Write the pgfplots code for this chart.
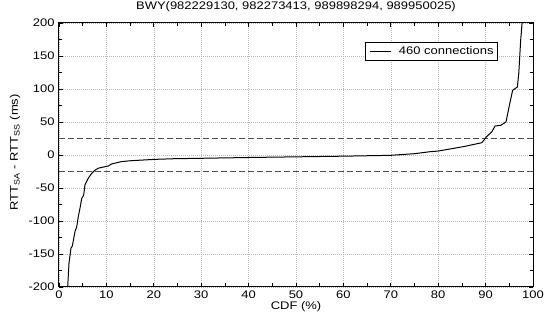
\documentclass[border=0pt]{standalone}
\usepackage{fontspec}
\setmainfont{Liberation Sans}[FakeStretch=1.18]
\usepackage{pgfplots}
\pgfplotsset{compat=1.18}
\begin{document}
\begin{tikzpicture}[font=\fontsize{11bp}{13bp}\selectfont]
\begin{axis}[
  scale only axis,
  width=474bp, height=264bp,
  xmin=0, xmax=100, ymin=-200, ymax=200,
  xtick={0,10,...,100},
  minor xtick={5,15,...,95},
  ytick={-200,-150,...,200},
  yticklabels={-200,-150,-100,-50,0,50,100,150,200},
  minor ytick={-175,-125,...,175},
  tick align=inside,
  major tick length=4bp, minor tick length=3.5bp,
  every tick/.style={black, line width=0.8bp},
  axis line style={line width=1bp},
  grid=major,
  major grid style={gray!55, line width=0.6bp, dash pattern=on 0.7bp off 1.3bp},
  /pgf/number format/assume math mode=true,
  yticklabel style={xshift=-1bp},
  title={BWY(982229130, 982273413, 989898294, 989950025)},
  title style={anchor=base, yshift=8bp},
  xlabel={CDF (\%)},
  xlabel style={at={(axis description cs:0.5,0)}, anchor=base, yshift=-22.5bp},
  ylabel={RTT\textsubscript{SA} - RTT\textsubscript{SS} (ms)},
  ylabel style={at={(axis description cs:-0.0865,0.51)}, anchor=base},
  legend style={at={(0.926,0.927)}, anchor=north east, draw=black, line width=0.8bp,
    inner sep=2bp, font=\fontsize{11bp}{13bp}\selectfont},
  legend cell align=left,
  legend image code/.code={\path (-2bp,0bp) (27bp,0bp); \draw[#1] (0bp,0bp) -- (21bp,0bp);},
]
\coordinate (bl) at (rel axis cs:0,0);
\coordinate (tr) at (rel axis cs:1,1);
\addplot[forget plot, gray!60!black, line width=1bp, dash pattern=on 6bp off 3bp] coordinates {(0,25) (100,25)};
\addplot[forget plot, gray!60!black, line width=1bp, dash pattern=on 6bp off 3bp] coordinates {(0,-25) (100,-25)};
\addplot[black, line width=1bp] coordinates {
(1.83,-200) (2.11,-164) (2.53,-141) (2.81,-138) (3.38,-116) (3.73,-109)
(4.08,-93) (4.50,-78) (4.78,-66) (5.2,-61) (5.49,-45) (5.84,-40) (6.19,-35)
(6.89,-28) (7.59,-23) (8.3,-20) (9.7,-17.7) (10.4,-16.7) (11.1,-13.6)
(13.2,-10) (15.3,-8.6) (20.3,-6.6) (24.5,-5.6) (30,-5) (40,-3.8) (50,-2.8)
(60,-1.8) (70,-0.5) (75,2) (78.3,5) (80,6) (85.3,12.6) (89.2,18.6)
(90.2,27.7) (91.3,35) (92,44) (93.2,45) (94.3,50) (95.1,78) (95.7,98)
(96.7,103) (97,124) (97.4,174) (97.7,200)
};
\addlegendentry{460 connections}
\end{axis}
\pgfresetboundingbox
\path[use as bounding box] ([shift={(-59bp,-31bp)}]bl) rectangle ([shift={(11bp,23bp)}]tr);
\end{tikzpicture}
\end{document}
